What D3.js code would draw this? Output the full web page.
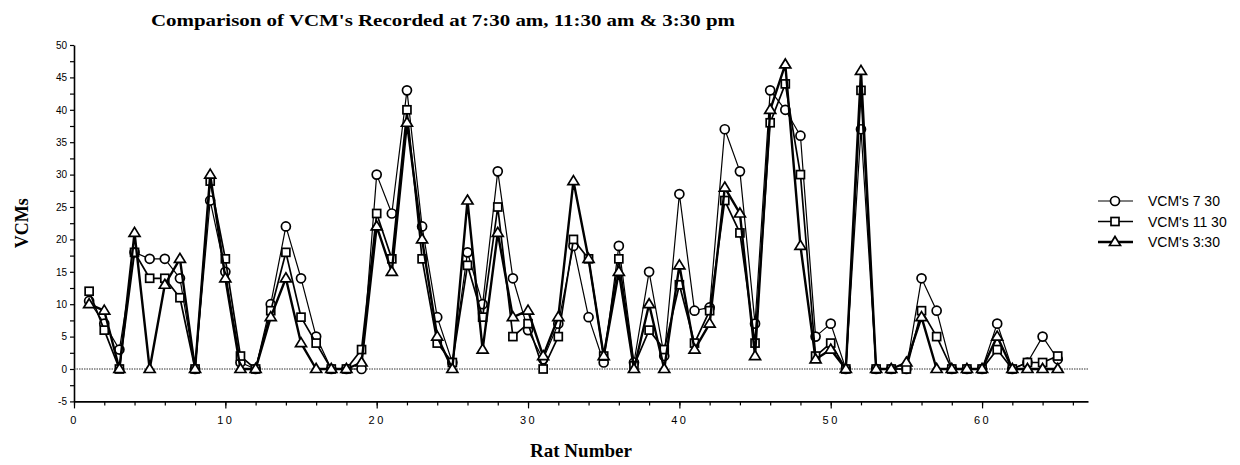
<!DOCTYPE html>
<html>
<head>
<meta charset="utf-8">
<script src="https://cdn.jsdelivr.net/npm/d3@7"></script>
<style>
  body { margin: 0; background: #fff; }
  svg { display: block; }
</style>
</head>
<body>
<div id="chart"></div>
<script>
// rat numbers on the x axis
var rats = [1,2,3,4,5,6,7,8,9,10,11,12,13,14,15,16,17,18,19,20,
            21,22,23,24,25,26,27,28,29,30,31,32,33,34,35,36,37,38,39,40,
            41,42,43,44,45,46,47,48,49,50,51,52,53,54,55,56,57,58,59,60,
            61,62,63,64,65];

// VCMs recorded at each time
var vcm730 = [10.5,7,3,18,17,17,14,0,26,15,1,0,10,22,14,5,0,0,0,30,
              24,43,22,8,1,18,10,30.5,14,6,1.5,7,19,8,1,19,1,15,2,27,
              9,9.5,37,30.5,7,43,40,36,5,7,0,37,0,0,0,14,9,0,0,0,
              7,0,1,5,1.5];
var vcm1130 = [12,6,0,18,14,14,11,0,29,17,2,0,9,18,8,4,0,0,3,24,
               17,40,17,4,1,16,8,25,5,7,0,5,20,17,2,17,0.5,6,3,13,
               4,9,26,21,4,38,44,30,2,4,0,43,0,0,0,9,5,0,0,0,
               3,0,1,1,2];
var vcm330 = [10,9,0,21,0,13,17,0,30,14,0,0,8,14,4,0,0,0,1,22,
              15,38,20,5,0,26,3,21,8,9,2,8,29,17,2,15,0,10,0,16,
              3,7,28,24,2,40,47,19,1.5,3,0,46,0,0,1,8,0,0,0,0,
              5,0,0,0,0];

var seriesNames = ["VCM's 7 30", "VCM's 11 30", "VCM's 3:30"];
var xTicks = [0,2,4,6,8,10,12,14,16,18,20,22,24,26,28,30,32,34,36,38,40,
              42,44,46,48,50,52,54,56,58,60,62,64,66];
var xLabels = [0,10,20,30,40,50,60];
var yTicks = [-5,-2.5,0,2.5,5,7.5,10,12.5,15,17.5,20,22.5,25,27.5,30,32.5,
              35,37.5,40,42.5,45,47.5,50];
var yLabels = [-5,0,5,10,15,20,25,30,35,40,45,50];

var width = 1240, height = 465;
var margin = {top: 45, left: 74, right: 152, bottom: 63.6};

var svg = d3.select("#chart").append("svg")
  .attr("width", width)
  .attr("height", height);

var x = d3.scaleLinear().domain([0, 67]).range([margin.left, width - margin.right]);
var y = d3.scaleLinear().domain([-5, 50]).range([height - margin.bottom, margin.top]);

var series = [
  {name: seriesNames[0], values: vcm730, shape: "circle", lw: 1.2},
  {name: seriesNames[1], values: vcm1130, shape: "square", lw: 1.7},
  {name: seriesNames[2], values: vcm330, shape: "triangle", lw: 2.4}
];

// title
svg.append("text")
  .attr("x", 151).attr("y", 26)
  .attr("font-family", "Liberation Serif")
  .attr("font-weight", "bold")
  .attr("font-size", 17)
  .attr("textLength", 584)
  .attr("lengthAdjust", "spacingAndGlyphs")
  .text("Comparison of VCM's Recorded at 7:30 am, 11:30 am & 3:30 pm");

// axes
var xMinor = svg.append("g")
  .attr("transform", "translate(0," + y(-5) + ")")
  .call(d3.axisBottom(x).tickValues(xTicks).tickSize(4).tickSizeOuter(0).tickFormat(""));
var xMajor = svg.append("g")
  .attr("transform", "translate(0," + y(-5) + ")")
  .call(d3.axisBottom(x).tickValues(xLabels).tickSize(7).tickSizeOuter(0).tickPadding(8)
    .tickFormat(function(d){ return d; }));
xMajor.select(".domain").remove();
xMajor.selectAll("text")
  .attr("font-family", "Liberation Sans")
  .attr("font-size", 11)
  .attr("letter-spacing", 2.5);

var yAxis = svg.append("g")
  .attr("transform", "translate(" + margin.left + ",0)")
  .call(d3.axisLeft(y).tickValues(yTicks).tickSize(4).tickSizeOuter(0)
    .tickFormat(function(d){ return yLabels.indexOf(d) >= 0 ? d : ""; }));
yAxis.selectAll("text")
  .attr("font-family", "Liberation Sans")
  .attr("font-size", 10);

svg.selectAll(".domain").attr("stroke-width", 1.6);
svg.selectAll(".tick line").attr("stroke-width", 1.2);

// zero line
svg.append("line")
  .attr("x1", x(0)).attr("x2", x(67))
  .attr("y1", y(0)).attr("y2", y(0))
  .attr("stroke", "#333")
  .attr("stroke-width", 1)
  .attr("stroke-dasharray", "1.5,1");

// axis labels
svg.append("text")
  .attr("x", (x(0) + x(67)) / 2).attr("y", 457)
  .attr("text-anchor", "middle")
  .attr("font-family", "Liberation Serif")
  .attr("font-weight", "bold")
  .attr("font-size", 19)
  .text("Rat Number");

svg.append("text")
  .attr("transform", "translate(28," + y(22.5) + ") rotate(-90)")
  .attr("text-anchor", "middle")
  .attr("font-family", "Liberation Serif")
  .attr("font-weight", "bold")
  .attr("font-size", 18)
  .text("VCMs");

function drawMarker(g, shape, cx, cy) {
  if (shape === "circle") {
    g.append("circle").attr("cx", cx).attr("cy", cy).attr("r", 4.5);
  } else if (shape === "square") {
    g.append("rect").attr("x", cx - 4).attr("y", cy - 4).attr("width", 8).attr("height", 8);
  } else {
    g.append("path").attr("d", "M" + cx + "," + (cy - 5.5) + "L" + (cx + 5.5) + "," + (cy + 3.5) +
      "L" + (cx - 5.5) + "," + (cy + 3.5) + "Z");
  }
}

var line = d3.line()
  .x(function(d, i){ return x(rats[i]); })
  .y(function(d){ return y(d); });

series.forEach(function(s) {
  svg.append("path")
    .datum(s.values)
    .attr("d", line)
    .attr("fill", "none")
    .attr("stroke", "#000")
    .attr("stroke-width", s.lw)
    .attr("stroke-linejoin", "round");
  var mg = svg.append("g")
    .attr("fill", "#fff")
    .attr("stroke", "#000")
    .attr("stroke-width", 1.7);
  s.values.forEach(function(v, i) {
    drawMarker(mg, s.shape, x(rats[i]), y(v));
  });
});

// legend
var legend = svg.append("g");
series.forEach(function(s, i) {
  var ly = 201 + i * 20.5;
  legend.append("line")
    .attr("x1", 1098).attr("x2", 1133)
    .attr("y1", ly).attr("y2", ly)
    .attr("stroke", "#000")
    .attr("stroke-width", s.lw);
  var mg = legend.append("g")
    .attr("fill", "#fff").attr("stroke", "#000").attr("stroke-width", 1.7);
  drawMarker(mg, s.shape, 1115, ly);
  legend.append("text")
    .attr("x", 1148).attr("y", ly + 5)
    .attr("font-family", "Liberation Sans")
    .attr("font-size", 14)
    .text(s.name);
});
</script>
</body>
</html>
